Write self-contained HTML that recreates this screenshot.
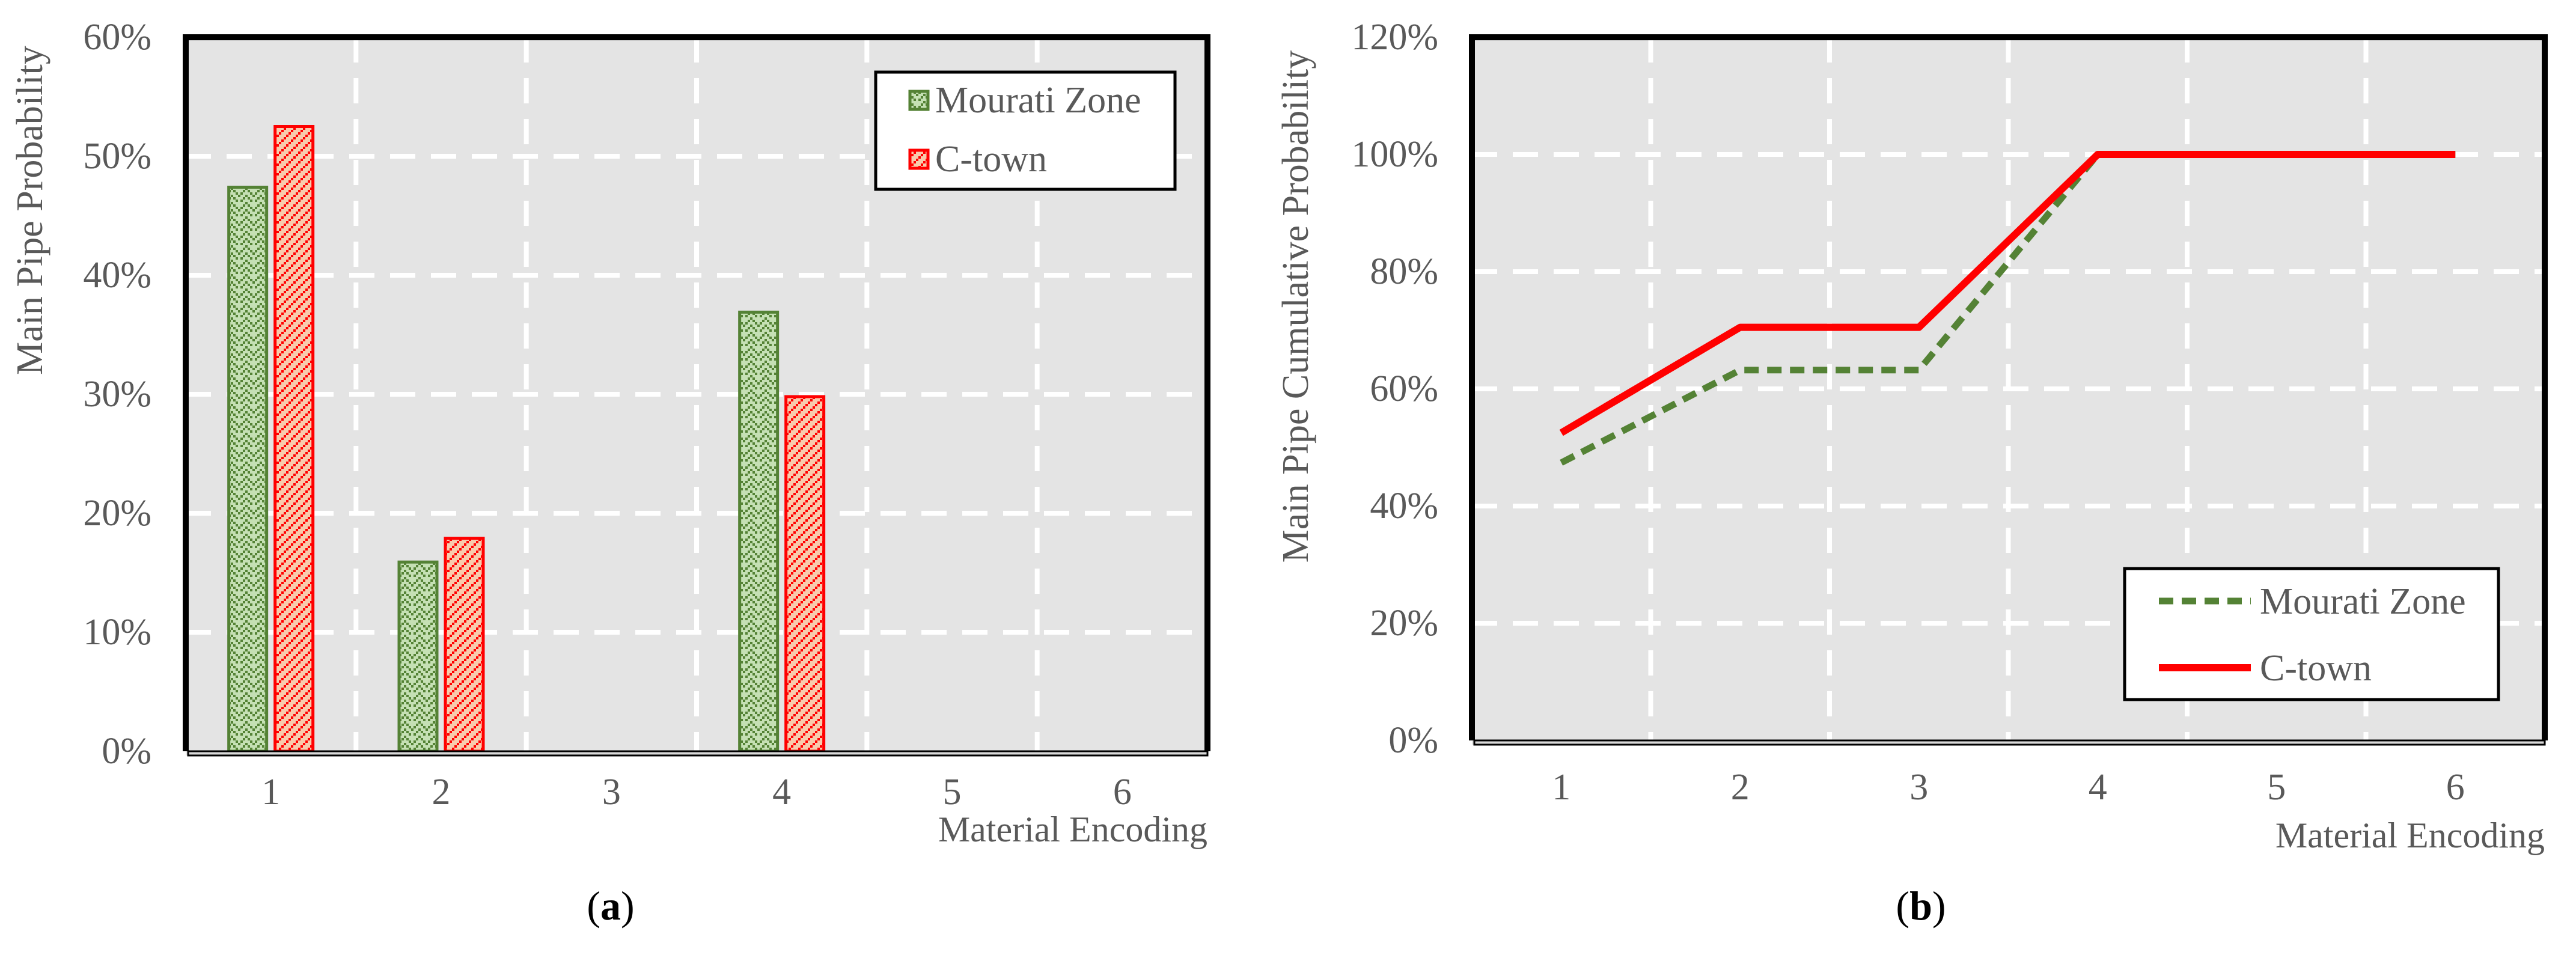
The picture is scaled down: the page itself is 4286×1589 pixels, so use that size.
<!DOCTYPE html>
<html><head><meta charset="utf-8"><style>
html,body{margin:0;padding:0;background:#fff}
svg{display:block}
text{font-family:"Liberation Serif",serif;fill:#595959}
</style></head><body>
<svg id="fig" width="4286" height="1589" viewBox="0 0 4286 1589" xmlns="http://www.w3.org/2000/svg">
<defs>
<pattern id="pGreen" width="24" height="24" patternUnits="userSpaceOnUse">
<rect width="24" height="24" fill="#c5e0b4"/>
<g fill="#548235">
<rect x="0" y="0" width="4" height="4"/><rect x="4" y="4" width="4" height="4"/><rect x="8" y="8" width="4" height="4"/><rect x="12" y="12" width="4" height="4"/>
<rect x="16" y="8" width="4" height="4"/><rect x="20" y="4" width="4" height="4"/>
<rect x="0" y="12" width="4" height="4"/><rect x="4" y="16" width="4" height="4"/><rect x="8" y="20" width="4" height="4"/><rect x="20" y="16" width="4" height="4"/><rect x="16" y="20" width="4" height="4"/>
</g></pattern>
<pattern id="pRed" width="16" height="16" patternUnits="userSpaceOnUse">
<rect width="16" height="16" fill="#f8cbad"/>
<g fill="#ff0000"><rect x="12" y="0" width="4" height="4"/><rect x="8" y="4" width="4" height="4"/><rect x="4" y="8" width="4" height="4"/><rect x="0" y="12" width="4" height="4"/></g>
</pattern>
</defs>
<g id="chartA"></g>
<g id="chartB"></g>
</svg>
<script>
const categories = ["1","2","3","4","5","6"];
const mouratiProb = [0.474, 0.159, 0, 0.369, 0, 0];
const ctownProb = [0.525, 0.179, 0, 0.298, 0, 0];
const mouratiCum = [0.474, 0.632, 0.632, 1.0, 1.0, 1.0];
const ctownCum = [0.525, 0.705, 0.705, 1.0, 1.0, 1.0];
const ticksA = [0, 0.1, 0.2, 0.3, 0.4, 0.5, 0.6];
const ticksB = [0, 0.2, 0.4, 0.6, 0.8, 1.0, 1.2];

const NS = "http://www.w3.org/2000/svg";
function mk(parent, tag, attrs, txt){
  const e = document.createElementNS(NS, tag);
  for (const k in attrs) e.setAttribute(k, attrs[k]);
  if (txt !== undefined) e.textContent = txt;
  parent.appendChild(e);
  return e;
}
function pct(v){ return Math.round(v*100) + "%"; }

function frame(g, L, T, R, B, zeroY, yMax, ticks, xScale, yScale, labelRight, yTitle, yTitleX, yTitleY, xTitleY, tickLabelY, panel, panelX){
  const bg = mk(g, "rect", {x:L, y:T, width:R-L, height:B-T, fill:"#e4e4e4"});
  
  
  ticks.forEach(t => {
    if (t > 0 && t < yMax) {
      const gl = mk(g, "line", {x1:L, x2:R, y1:yScale(t), y2:yScale(t), stroke:"#fff", "stroke-width":8, "stroke-dasharray":"42 26"});
      
      
    }
  });
  for (let i = 1; i < categories.length; i++) {
    const x = (xScale(i-1) + xScale(i)) / 2;
    const vl = mk(g, "line", {x1:x, x2:x, y1:T, y2:zeroY, stroke:"#fff", "stroke-width":8, "stroke-dasharray":"42 26"});
    
    
  }
  ticks.forEach(t => {
    const tl = mk(g, "text", {x:labelRight, y:yScale(t)+20, "font-size":62, "text-anchor":"end"}, pct(t));
    
    
  });
  categories.forEach((c,i) => {
    const xl = mk(g, "text", {x:xScale(i), y:tickLabelY, "font-size":62, "text-anchor":"middle"}, c);
    
    
  });
  const yt = mk(g, "text", {x:yTitleX, y:yTitleY, "font-size":62, "text-anchor":"middle", transform:`rotate(-90 ${yTitleX} ${yTitleY})`}, yTitle);
  
  
  const xt = mk(g, "text", {x:R, y:xTitleY, "font-size":60, "text-anchor":"end"}, "Material Encoding");
  
  
  const pl = mk(g, "text", {x:panelX, y:1530, "font-size":68, "text-anchor":"middle", style:"fill:#000"});
  
  
  mk(pl, "tspan", {}, "(");
  mk(pl, "tspan", {"font-weight":"bold"}, panel);
  mk(pl, "tspan", {}, ")");
}

function floorAndBorder(g, L, T, R, B, zeroY){
  const fl = mk(g, "rect", {x:L+4, y:zeroY, width:R-L-4, height:B-zeroY, fill:"#d9d9d9", stroke:"#000", "stroke-width":3});
  
  
  const bd = mk(g, "path", {d:`M${L},${zeroY} L${L},${T} L${R},${T} L${R},${zeroY}`, fill:"none", stroke:"#000", "stroke-width":10});
  
  
}

(function(){
  const g = document.getElementById("chartA");
  const L=309, T=62, R=2009, B=1257, zeroY=1250, yMax=0.6;
  const slot = (R-L)/categories.length;
  const xScale = i => L + slot*(i+0.5);
  const yScale = v => zeroY - v/yMax*(zeroY-T);
  frame(g, L, T, R, B, zeroY, yMax, ticksA, xScale, yScale, 252, "Main Pipe Probability", 70, 350, 1400, 1338, "a", 1016);
  const bw = 63;
  mouratiProb.forEach((v,i) => {
    if (v <= 0) return;
    const r = mk(g, "rect", {x:xScale(i)-7-bw, y:yScale(v), width:bw, height:zeroY-yScale(v), fill:"url(#pGreen)", stroke:"#548235", "stroke-width":5});
    
    
  });
  ctownProb.forEach((v,i) => {
    if (v <= 0) return;
    const r = mk(g, "rect", {x:xScale(i)+7, y:yScale(v), width:bw, height:zeroY-yScale(v), fill:"url(#pRed)", stroke:"#ff0000", "stroke-width":5});
    
    
  });
  floorAndBorder(g, L, T, R, B, zeroY);
  const lg = mk(g, "g", {});
  
  
  mk(lg, "rect", {x:1457, y:120, width:498, height:195, fill:"#fff", stroke:"#000", "stroke-width":5});
  const e1 = mk(lg, "g", {});
  
  
  mk(e1, "rect", {x:1514, y:152, width:30, height:30, fill:"url(#pGreen)", stroke:"#548235", "stroke-width":5});
  mk(e1, "text", {x:1556, y:187, "font-size":62}, "Mourati Zone");
  const e2 = mk(lg, "g", {});
  
  
  mk(e2, "rect", {x:1514, y:250, width:30, height:30, fill:"url(#pRed)", stroke:"#ff0000", "stroke-width":5});
  mk(e2, "text", {x:1556, y:285, "font-size":62}, "C-town");
})();

(function(){
  const g = document.getElementById("chartB");
  const L=2449, T=62, R=4234, B=1239, zeroY=1232, yMax=1.2;
  const slot = (R-L)/categories.length;
  const xScale = i => L + slot*(i+0.5);
  const yScale = v => zeroY - v/yMax*(zeroY-T);
  frame(g, L, T, R, B, zeroY, yMax, ticksB, xScale, yScale, 2393, "Main Pipe Cumulative Probability", 2176, 510, 1410, 1330, "b", 3196);
  const gp = mouratiCum.map((v,i) => `${xScale(i)},${yScale(v)}`).join(" ");
  const l1 = mk(g, "polyline", {points:gp, fill:"none", stroke:"#548235", "stroke-width":11, "stroke-dasharray":"24 14"});
  
  
  const rp = ctownCum.map((v,i) => `${xScale(i)},${yScale(v)}`).join(" ");
  const l2 = mk(g, "polyline", {points:rp, fill:"none", stroke:"#ff0000", "stroke-width":12, "stroke-linejoin":"round"});
  
  
  floorAndBorder(g, L, T, R, B, zeroY);
  const lg = mk(g, "g", {});
  
  
  mk(lg, "rect", {x:3535, y:946, width:622, height:218, fill:"#fff", stroke:"#000", "stroke-width":5});
  const e1 = mk(lg, "g", {});
  
  
  mk(e1, "line", {x1:3592, x2:3745, y1:1000, y2:1000, stroke:"#548235", "stroke-width":11, "stroke-dasharray":"24 14"});
  mk(e1, "text", {x:3760, y:1021, "font-size":62}, "Mourati Zone");
  const e2 = mk(lg, "g", {});
  
  
  mk(e2, "line", {x1:3592, x2:3745, y1:1111, y2:1111, stroke:"#ff0000", "stroke-width":12});
  mk(e2, "text", {x:3760, y:1132, "font-size":62}, "C-town");
})();
</script>
</body></html>
